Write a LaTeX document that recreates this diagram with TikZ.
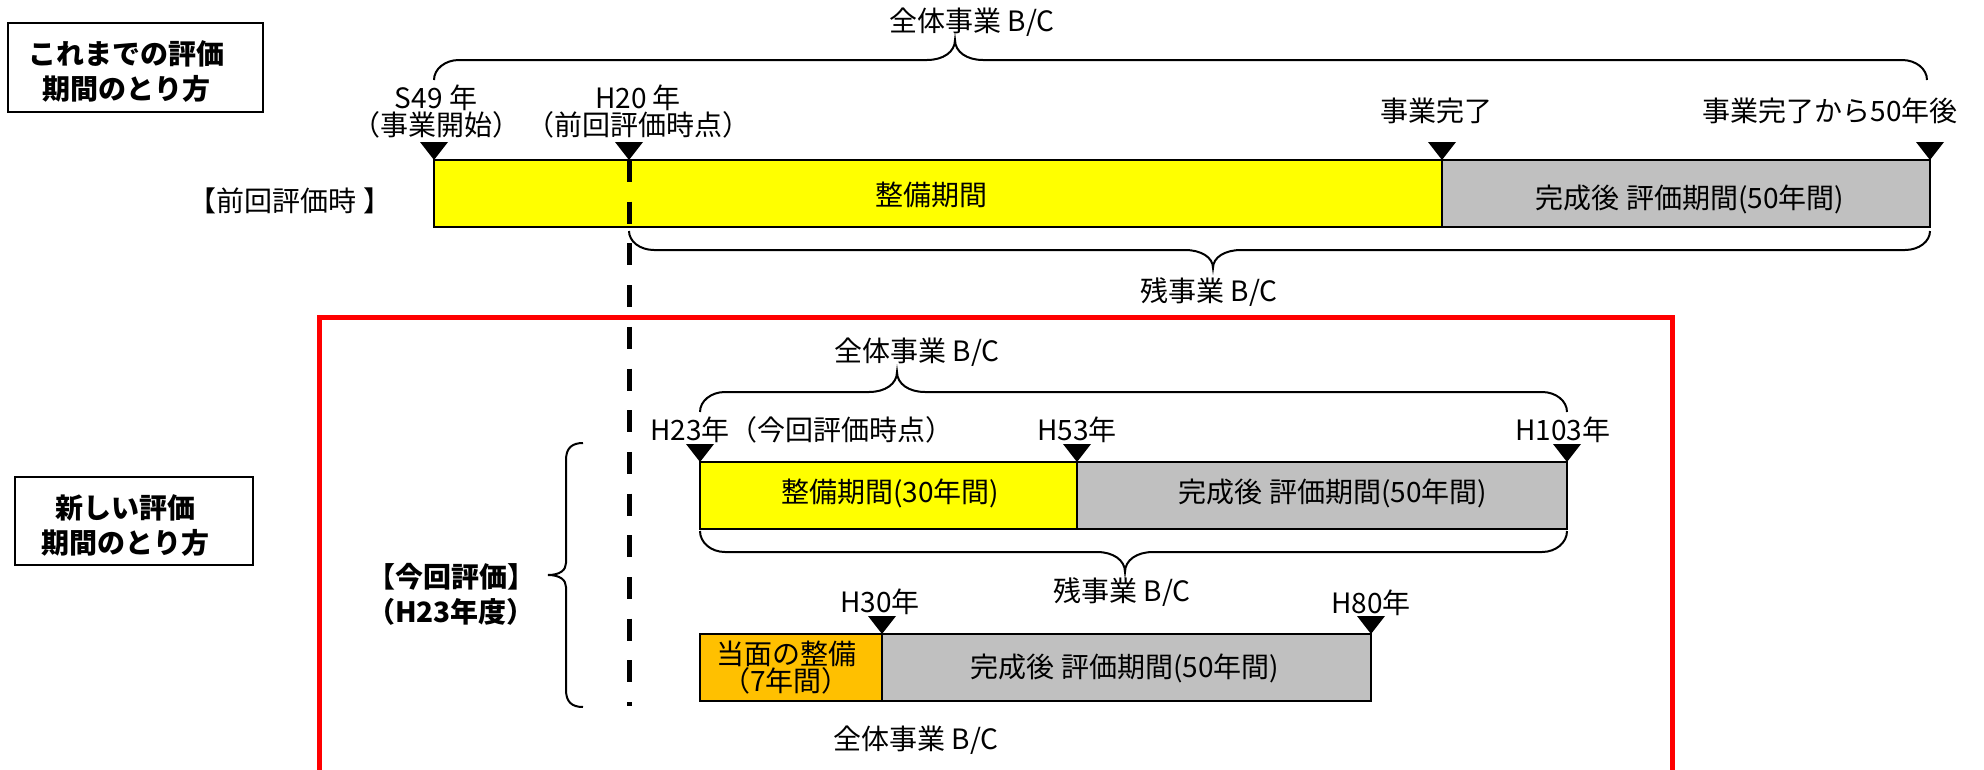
\documentclass[tikz,border=0pt]{standalone}
\usepackage{fontspec}
\setmainfont{Noto Sans CJK JP}
\definecolor{ybar}{HTML}{FFFF00}
\definecolor{gbar}{HTML}{C0C0C0}
\definecolor{obar}{HTML}{FFC000}
\definecolor{rframe}{HTML}{FF0000}
\newcommand\Tri[2]{\fill (#1,#2) -- ({#1-14},{#2-18}) -- ({#1+14},{#2-18}) -- cycle;}
% x0 x1 yline yend tipx tipy
\newcommand\HBrace[6]{%
  \draw[bracel] (#1,#4) .. controls (#1,{#3+0.45*(#4-#3)}) and ({#1+11},#3) .. ({#1+25},#3)
   -- ({#5-28},#3) .. controls ({#5-12},#3) and (#5,{#3+0.4*(#6-#3)}) .. (#5,#6)
   .. controls (#5,{#3+0.4*(#6-#3)}) and ({#5+12},#3) .. ({#5+28},#3)
   -- ({#2-25},#3) .. controls ({#2-11},#3) and (#2,{#3+0.45*(#4-#3)}) .. (#2,#4);}
\begin{document}
\begin{tikzpicture}[x=1pt,y=-1pt,
  lbl/.style={font=\fontsize{28}{27}\selectfont, inner sep=0pt, align=center},
  blbl/.style={font=\fontsize{28}{35}\selectfont\bfseries, inner sep=0pt, align=center},
  bar/.style={draw=black, line width=2.5pt, inner sep=0pt, outer sep=0pt, anchor=north west},
  titlebox/.style={draw=black, line width=2pt, inner sep=0pt},
  bracel/.style={draw=black, line width=2pt},
  cut/.style={draw=black, line width=5pt, dash pattern=on 22pt off 19.7pt},
  frame/.style={draw=rframe, line width=5pt}]
\useasboundingbox (0,0) rectangle (1984,769);
\clip (0,0) rectangle (1984,769);

% ---- title boxes
\node[titlebox, minimum width=255pt, minimum height=89pt] (box1) at (135.5,67.5) {};
\node[blbl] (box1t) at (126,72) {これまでの評価\\期間のとり方};
\node[titlebox, minimum width=238pt, minimum height=88pt] (box2) at (134,521) {};
\node[blbl] (box2t) at (125,526) {新しい評価\\期間のとり方};

% ---- previous evaluation (top)
\node[bar, fill=ybar, minimum width=1008pt, minimum height=67pt] (b1) at (434,160) {};
\node[bar, fill=gbar, minimum width=488pt, minimum height=67pt] (b2) at (1442,160) {};
\node[lbl] (b1t) at (931,195) {整備期間};
\node[lbl] (b2t) at (1690,199) {完成後 評価期間(50年間)};
\node[lbl] (prev) at (290,201) {【前回評価時 】};

\Tri{434}{160}\Tri{629}{160}\Tri{1442}{160}\Tri{1930}{160}
\node[lbl] (s49) at (436,112) {S49 年\\（事業開始）};
\node[lbl] (h20) at (638,112) {H20 年\\（前回評価時点）};
\node[lbl] (done) at (1436,111) {事業完了};
\node[lbl] (done50) at (1830,111) {事業完了から50年後};

\HBrace{434}{1927}{60}{80}{955}{40}
\node[lbl] (all1) at (972,22) {全体事業 B/C};
\HBrace{629}{1930}{250}{231}{1213}{268}
\node[lbl] (rem1) at (1209,292) {残事業 B/C};

% ---- red frame
\draw[frame] (319,900) -- (319,317.5) -- (1672,317.5) -- (1672,900);

% ---- new evaluation
\node[bar, fill=ybar, minimum width=377pt, minimum height=67pt] (b3) at (700,462) {};
\node[bar, fill=gbar, minimum width=490pt, minimum height=67pt] (b4) at (1077,462) {};
\node[lbl] (b3t) at (890,493) {整備期間(30年間)};
\node[lbl] (b4t) at (1333,493) {完成後 評価期間(50年間)};
\Tri{700}{462}\Tri{1077}{462}\Tri{1567}{462}
\node[lbl, anchor=west] (h23) at (650,430) {H23年（今回評価時点）};
\node[lbl] (h53) at (1077,430) {H53年};
\node[lbl] (h103) at (1563,430) {H103年};
\HBrace{700}{1567}{392}{412}{897}{372}
\node[lbl] (all2) at (917,352) {全体事業 B/C};
\HBrace{700}{1567}{552}{531}{1125}{572}
\node[lbl] (rem2) at (1122,592) {残事業 B/C};

\node[bar, fill=obar, minimum width=182pt, minimum height=67pt] (b5) at (700,634) {};
\node[bar, fill=gbar, minimum width=489pt, minimum height=67pt] (b6) at (882,634) {};
\node[lbl] (b5t) at (786,668) {当面の整備\\（7年間）};
\node[lbl] (b6t) at (1125,668) {完成後 評価期間(50年間)};
\Tri{882}{634}\Tri{1371}{634}
\node[lbl] (h30) at (880,602) {H30年};
\node[lbl] (h80) at (1371,603) {H80年};
\node[lbl] (all3) at (916,740) {全体事業 B/C};

% ---- left brace and label
\draw[bracel] (583,443) .. controls (572,443) and (566,448) .. (566,460) -- (566,563)
  .. controls (566,570) and (560,575) .. (548,575)
  .. controls (560,575) and (566,580) .. (566,587) -- (566,690)
  .. controls (566,702) and (572,707) .. (583,707);
\node[blbl] (cur) at (451,594) {【今回評価】\\（H23年度）};

% ---- dashed cut line at H20
\coordinate (cutTop) at (629,160);
\coordinate (cutEnd) at (629,706);
\draw[cut] (cutTop) -- (cutEnd);
\end{tikzpicture}
\end{document}
